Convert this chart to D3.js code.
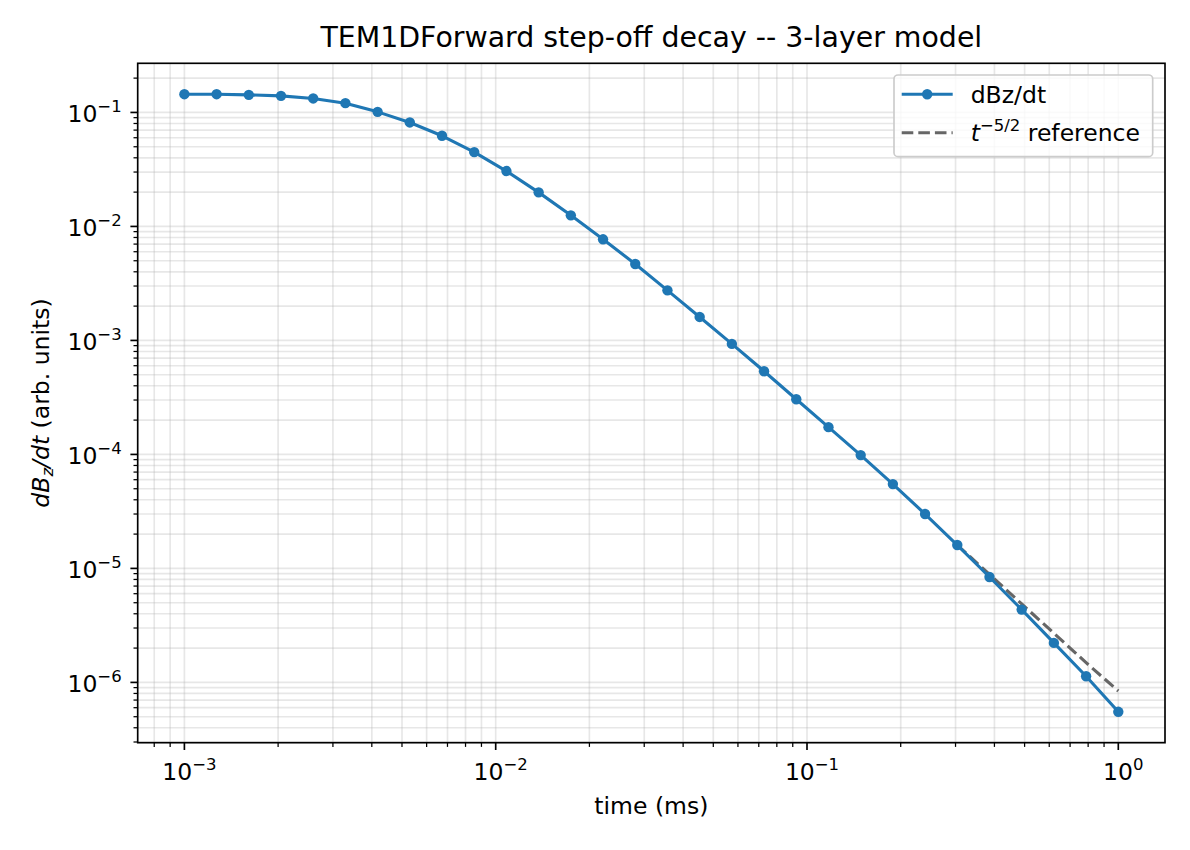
<!DOCTYPE html>
<html lang="en">
<head>
    <meta charset="utf-8">
    <title>TEM1DForward step-off decay</title>
    <script src="https://d3js.org/d3.v7.min.js"></script>
    <style>
        body { margin: 0; background: #fff; }
        svg { font-family: "DejaVu Sans", sans-serif; }
    </style>
</head>
<body>
<svg id="g1"></svg>
<script>

    // times (ms), log-spaced 1e-3 .. 1
    const times = [0.001, 0.001269, 0.0016103, 0.0020434, 0.0025929, 0.0032903,
        0.0041753, 0.0052983, 0.0067234, 0.0085317, 0.010826, 0.013738,
        0.017433, 0.022122, 0.028072, 0.035622, 0.045204, 0.057362,
        0.07279, 0.092367, 0.11721, 0.14873, 0.18874, 0.2395,
        0.30392, 0.38566, 0.48939, 0.62102, 0.78805, 1.0];

    // dBz/dt
    const dbzdt = [0.1446, 0.1446, 0.1426, 0.1398, 0.1327, 0.1206,
        0.1012, 0.0817, 0.0624, 0.0449, 0.0306, 0.0199,
        0.01251, 0.00771, 0.00468, 0.00275, 0.001607, 9.32e-4,
        5.37e-4, 3.05e-4, 1.734e-4, 9.86e-5, 5.49e-5, 3.00e-5,
        1.603e-5, 8.41e-6, 4.35e-6, 2.22e-6, 1.132e-6, 5.52e-7];

    // t^-5/2 reference, drawn over the last six times
    const refTimes = [0.30392, 0.38566, 0.48939, 0.62102, 0.78805, 1.0];
    const refValues = [1.603e-5, 8.85e-6, 4.88e-6, 2.70e-6, 1.49e-6, 8.4e-7];

    const xMajor = [-3, -2, -1, 0];
    const yMajor = [-6, -5, -4, -3, -2, -1];

    let width = 1190,
        height = 850,
        margin = {top: 63.3, right: 25, bottom: 107.3, left: 137.7},
        x0 = margin.left,
        x1 = width - margin.right,
        y0 = margin.top,
        y1 = height - margin.bottom;

    const fs = 23.5, fsSup = 16.5, fsTitle = 28.4;

    let svg = d3.select("#g1")
        .attr("width", width)
        .attr("height", height);

    // matplotlib-like 5% padding in log space
    function padLog(ext) {
        let a = Math.log10(ext[0]), b = Math.log10(ext[1]), p = (b - a) * 0.05;
        return [Math.pow(10, a - p), Math.pow(10, b + p)];
    }

    let x = d3.scaleLog().domain(padLog(d3.extent(times))).range([x0, x1]);
    let y = d3.scaleLog().domain(padLog(d3.extent(dbzdt))).range([y1, y0]);

    function minorTicks(scale) {
        let d = scale.domain(), out = [];
        for (let e = Math.floor(Math.log10(d[0])); e <= Math.ceil(Math.log10(d[1])); e++) {
            for (let m = 2; m <= 9; m++) {
                let v = m * Math.pow(10, e);
                if (v >= d[0] && v <= d[1]) out.push(v);
            }
        }
        return out;
    }
    let xMinor = minorTicks(x), yMinor = minorTicks(y);

    // grid
    let grid = svg.append("g").attr("stroke", "#b0b0b0").attr("stroke-opacity", 0.3)
        .attr("stroke-width", 1.67);
    grid.selectAll(".gx").data(xMajor.map(e => Math.pow(10, e)).concat(xMinor))
        .enter().append("line")
        .attr("x1", d => x(d)).attr("x2", d => x(d))
        .attr("y1", y0).attr("y2", y1);
    grid.selectAll(".gy").data(yMajor.map(e => Math.pow(10, e)).concat(yMinor))
        .enter().append("line")
        .attr("y1", d => y(d)).attr("y2", d => y(d))
        .attr("x1", x0).attr("x2", x1);

    // reference line
    let line = d3.line().x(d => x(d[0])).y(d => y(d[1]));
    svg.append("path")
        .datum(refTimes.map((t, i) => [t, refValues[i]]))
        .attr("d", line)
        .attr("fill", "none")
        .attr("stroke", "#666666")
        .attr("stroke-width", 3.1)
        .attr("stroke-dasharray", "11.6,5");

    // data
    let pts = times.map((t, i) => [t, dbzdt[i]]);
    svg.append("path")
        .datum(pts)
        .attr("d", line)
        .attr("fill", "none")
        .attr("stroke", "#1f77b4")
        .attr("stroke-width", 3.1)
        .attr("stroke-linejoin", "round");
    svg.append("g").selectAll("circle").data(pts)
        .enter().append("circle")
        .attr("cx", d => x(d[0]))
        .attr("cy", d => y(d[1]))
        .attr("r", 5.2)
        .attr("fill", "#1f77b4");

    // frame
    svg.append("rect")
        .attr("x", x0).attr("y", y0)
        .attr("width", x1 - x0).attr("height", y1 - y0)
        .attr("fill", "none").attr("stroke", "#000").attr("stroke-width", 1.67);

    // ticks
    let ticks = svg.append("g").attr("stroke", "#000");
    xMajor.forEach(e => {
        ticks.append("line").attr("x1", x(Math.pow(10, e))).attr("x2", x(Math.pow(10, e)))
            .attr("y1", y1).attr("y2", y1 + 7.3).attr("stroke-width", 1.67);
    });
    xMinor.forEach(v => {
        ticks.append("line").attr("x1", x(v)).attr("x2", x(v))
            .attr("y1", y1).attr("y2", y1 + 4.2).attr("stroke-width", 1.25);
    });
    yMajor.forEach(e => {
        ticks.append("line").attr("y1", y(Math.pow(10, e))).attr("y2", y(Math.pow(10, e)))
            .attr("x1", x0).attr("x2", x0 - 7.3).attr("stroke-width", 1.67);
    });
    yMinor.forEach(v => {
        ticks.append("line").attr("y1", y(v)).attr("y2", y(v))
            .attr("x1", x0).attr("x2", x0 - 4.2).attr("stroke-width", 1.25);
    });

    function powLabel(g, e, anchor) {
        let t = g.append("text").attr("font-size", fs).attr("fill", "#000")
            .attr("text-anchor", anchor);
        t.append("tspan").text("10");
        t.append("tspan").attr("dy", -10).attr("font-size", fsSup)
            .text(e < 0 ? "\u2212" + Math.abs(e) : String(e));
        return t;
    }

    xMajor.forEach(e => {
        powLabel(svg, e, "middle")
            .attr("x", x(Math.pow(10, e)) + 5)
            .attr("y", 780);
    });
    yMajor.forEach(e => {
        powLabel(svg, e, "end")
            .attr("x", x0 - 16)
            .attr("y", y(Math.pow(10, e)) + 10);
    });

    // title and axis labels
    svg.append("text")
        .attr("x", (x0 + x1) / 2).attr("y", 47.3)
        .attr("text-anchor", "middle").attr("font-size", fsTitle)
        .text("TEM1DForward step-off decay -- 3-layer model");

    svg.append("text")
        .attr("x", (x0 + x1) / 2).attr("y", 814)
        .attr("text-anchor", "middle").attr("font-size", fs)
        .text("time (ms)");

    let yl = svg.append("text")
        .attr("transform", `translate(49,${(y0 + y1) / 2}) rotate(-90)`)
        .attr("text-anchor", "middle").attr("font-size", fs);
    yl.append("tspan").attr("font-style", "italic").text("dB");
    yl.append("tspan").attr("font-style", "italic").attr("font-size", fsSup).attr("dy", 4).text("z");
    yl.append("tspan").attr("font-style", "italic").attr("dy", -4).text("/dt");
    yl.append("tspan").text(" (arb. units)");

    // legend
    let lg = svg.append("g");
    lg.append("rect")
        .attr("x", 894).attr("y", 75).attr("width", 258.7).attr("height", 81.7)
        .attr("rx", 4).attr("fill", "#fff").attr("fill-opacity", 0.8)
        .attr("stroke", "#cccccc").attr("stroke-width", 1.67);
    lg.append("line").attr("x1", 901.7).attr("x2", 952.7).attr("y1", 94.3).attr("y2", 94.3)
        .attr("stroke", "#1f77b4").attr("stroke-width", 3.1);
    lg.append("circle").attr("cx", 927.2).attr("cy", 94.3).attr("r", 5.2).attr("fill", "#1f77b4");
    lg.append("text").attr("x", 970.7).attr("y", 103).attr("font-size", fs).text("dBz/dt");
    lg.append("line").attr("x1", 901.7).attr("x2", 952.7).attr("y1", 132.7).attr("y2", 132.7)
        .attr("stroke", "#666666").attr("stroke-width", 3.1).attr("stroke-dasharray", "11.6,5");
    let lt = lg.append("text").attr("x", 970.7).attr("y", 141).attr("font-size", fs);
    lt.append("tspan").attr("font-style", "italic").text("t");
    lt.append("tspan").attr("font-size", fsSup).attr("dy", -10).text("\u22125/2");
    lt.append("tspan").attr("dy", 10).text(" reference");

</script>
</body>
</html>
